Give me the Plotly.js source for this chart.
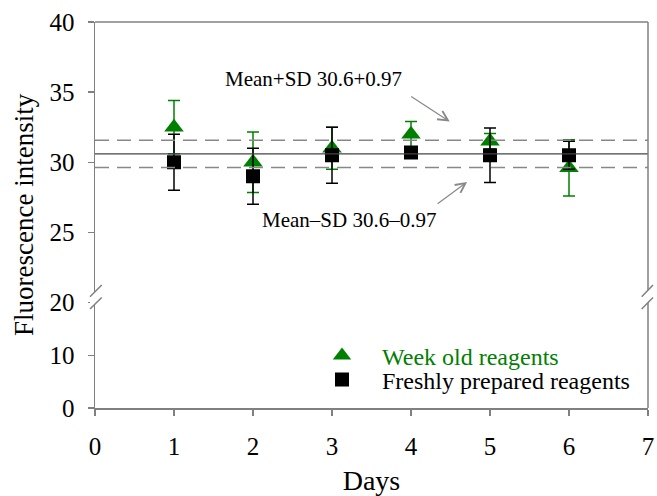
<!DOCTYPE html>
<html>
<head>
<meta charset="utf-8">
<script src="https://cdn.plot.ly/plotly-3.0.1.min.js"></script>
<style>html,body{margin:0;padding:0;background:#fff;}#chart{width:657px;height:496px;}</style>
</head>
<body>
<div id="chart"></div>
<script>
// ---- data ----
var days = [1, 2, 3, 4, 5, 6];
var weekOld = [32.5, 30.0, 31.0, 32.0, 31.5, 29.6];
var weekOldSD = [1.9, 2.15, 1.5, 0.9, 0.55, 2.0];
var fresh = [30.0, 29.0, 30.5, 30.7, 30.5, 30.5];
var freshSD = [2.0, 2.0, 2.0, 0.4, 1.95, 1.0];
var meanValue = 30.6;
var sdValue = 0.97;
var xTicks = [0, 1, 2, 3, 4, 5, 6, 7];
var upperTicks = [25, 30, 35, 40];
var lowerTicks = [0, 10, 20];

var FONT = 'Liberation Serif, Times New Roman, serif';
var AX = '#808080';
var GREEN = '#008000';

var traces = [
  {
    x: days, y: weekOld, type: 'scatter', mode: 'markers',
    name: 'Week old reagents', xaxis: 'x', yaxis: 'y', legend: 'legend',
    marker: {symbol: 'triangle-up', size: 17, color: GREEN},
    error_y: {type: 'data', array: weekOldSD, visible: true, color: GREEN, thickness: 1.5, width: 6}
  },
  {
    x: days, y: fresh, type: 'scatter', mode: 'markers',
    name: 'Freshly prepared reagents', xaxis: 'x', yaxis: 'y', legend: 'legend2',
    marker: {symbol: 'square', size: 14, color: '#000'},
    error_y: {type: 'data', array: freshSD, visible: true, color: '#000', thickness: 1.5, width: 6}
  },
  {x: [], y: [], xaxis: 'x', yaxis: 'y2', type: 'scatter', mode: 'markers', showlegend: false, hoverinfo: 'skip'}
];

// pixel -> paper helpers for layout decoration
function px(v){ return (v - 95) / 553; }
function py(v){ return (408 - v) / 386; }
var split = py(302.5);

var shapes = [
  {type: 'line', xref: 'x', yref: 'y', x0: 0, x1: 7, y0: meanValue, y1: meanValue, line: {color: '#444', width: 1.2}},
  {type: 'line', xref: 'x', yref: 'y', x0: 0, x1: 7, y0: meanValue + sdValue, y1: meanValue + sdValue, line: {color: '#888', width: 1.5, dash: '14px,8px'}},
  {type: 'line', xref: 'x', yref: 'y', x0: 0, x1: 7, y0: meanValue - sdValue, y1: meanValue - sdValue, line: {color: '#888', width: 1.5, dash: '14px,8px'}},
  // frame top and right
  {type: 'line', xref: 'paper', yref: 'paper', x0: 0, x1: 1, y0: 1, y1: 1, line: {color: AX, width: 1.5}},
  {type: 'line', xref: 'paper', yref: 'paper', x0: 1, x1: 1, y0: 0, y1: 1, line: {color: AX, width: 1.5}}
];
// axis breaks (left and right)
[[90, 101.7], [641.7, 653]].forEach(function(p){
  shapes.push({type: 'path', xref: 'paper', yref: 'paper', layer: 'above',
    path: 'M' + px(p[0]) + ',' + py(296.7) + ' L' + px(p[1]) + ',' + py(285) + ' L' + px(p[1]) + ',' + py(297.5) + ' L' + px(p[0]) + ',' + py(309) + ' Z',
    fillcolor: '#fff', line: {width: 0}});
  shapes.push({type: 'line', xref: 'paper', yref: 'paper', layer: 'above', x0: px(p[0]), y0: py(296.7), x1: px(p[1]), y1: py(285), line: {color: AX, width: 1.5}});
  shapes.push({type: 'line', xref: 'paper', yref: 'paper', layer: 'above', x0: px(p[0]), y0: py(309), x1: px(p[1]), y1: py(297.5), line: {color: AX, width: 1.5}});
});

var annotations = [
  {xref: 'x', yref: 'y', x: 2.77, y: 35.96, text: 'Mean+SD 30.6+0.97', showarrow: false, font: {family: FONT, size: 21, color: '#000'}},
  {xref: 'x', yref: 'y', x: 3.21, y: 25.9, text: 'Mean\u2013SD 30.6\u20130.97', showarrow: false, font: {family: FONT, size: 21, color: '#000'}},
  {xref: 'x', yref: 'y', x: 4.49, y: 32.9, ax: -40, ay: -26, text: '', showarrow: true, arrowhead: 5, arrowsize: 1.6, arrowwidth: 1.2, arrowcolor: '#888'},
  {xref: 'x', yref: 'y', x: 4.71, y: 28.6, ax: -31, ay: 23, text: '', showarrow: true, arrowhead: 5, arrowsize: 1.6, arrowwidth: 1.2, arrowcolor: '#888'},
  {xref: 'paper', yref: 'paper', x: px(24), y: 0.5, text: 'Fluorescence intensity', textangle: -90, showarrow: false, xanchor: 'center', yanchor: 'middle', font: {family: FONT, size: 27, color: '#000'}}
];

var legendCommon = {xanchor: 'left', yanchor: 'middle', bgcolor: 'rgba(0,0,0,0)', itemwidth: 70};

var layout = {
  width: 657, height: 496,
  margin: {l: 95, r: 9, t: 22, b: 88},
  paper_bgcolor: '#fff', plot_bgcolor: '#fff',
  font: {family: FONT, color: '#000'},
  showlegend: true,
  legend: Object.assign({x: px(302), y: py(356), font: {family: FONT, size: 24, color: GREEN}}, legendCommon),
  legend2: Object.assign({x: px(302), y: py(380), font: {family: FONT, size: 24, color: '#000'}}, legendCommon),
  xaxis: {
    anchor: 'y2', range: [0, 7], tickvals: xTicks, ticktext: xTicks.map(String),
    showgrid: false, zeroline: false, showline: true, linecolor: AX, linewidth: 1.5,
    ticks: 'outside', ticklen: 6, tickcolor: AX, tickwidth: 1.5,
    tickfont: {family: FONT, size: 25, color: '#000'}, ticklabelstandoff: 9,
    title: {text: 'Days', font: {family: FONT, size: 28, color: '#000'}, standoff: 18}
  },
  yaxis: {
    domain: [split, 1], range: [20, 40], tickvals: upperTicks, ticktext: upperTicks.map(String),
    showgrid: false, zeroline: false, showline: true, linecolor: AX, linewidth: 1.5,
    ticks: 'outside', ticklen: 6, tickcolor: AX, tickwidth: 1.5,
    tickfont: {family: FONT, size: 25, color: '#000'}, ticklabelstandoff: 8
  },
  yaxis2: {
    domain: [0, split], range: [0, 20], anchor: 'x', tickvals: lowerTicks, ticktext: lowerTicks.map(String),
    showgrid: false, zeroline: false, showline: true, linecolor: AX, linewidth: 1.5,
    ticks: 'outside', ticklen: 6, tickcolor: AX, tickwidth: 1.5,
    tickfont: {family: FONT, size: 25, color: '#000'}, ticklabelstandoff: 8
  },
  shapes: shapes,
  annotations: annotations
};

Plotly.newPlot('chart', traces, layout, {displayModeBar: false, staticPlot: true});
</script>
</body>
</html>
